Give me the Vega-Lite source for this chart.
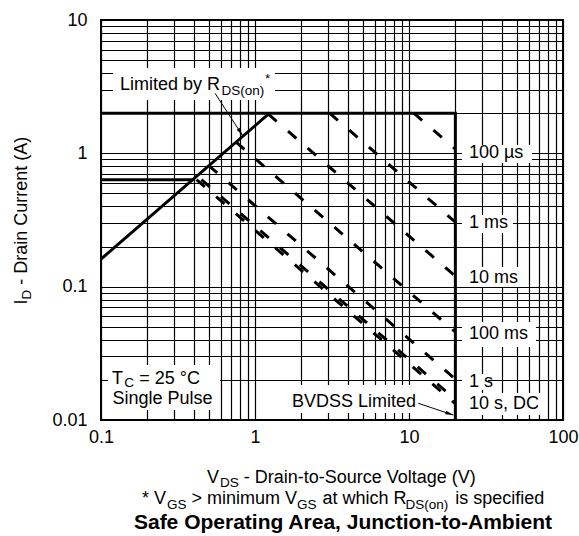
{
  "$schema": "https://vega.github.io/schema/vega-lite/v6.json",
  "width": 462,
  "height": 400,
  "autosize": {"type": "none"},
  "padding": {"left": 101, "top": 20, "right": 16, "bottom": 116},
  "background": "white",
  "config": {
    "view": {"stroke": "black", "strokeWidth": 2},
    "font": "Liberation Sans",
    "text": {"font": "Liberation Sans", "color": "black"}
  },
  "datasets": {
    "boxes": [
      {"x": 0.1197, "x2": 1.349, "y": 4.365, "y2": 2.512},
      {"x": 0.111, "x2": 0.5925, "y": 0.02585, "y2": 0.01189},
      {"x": 1.614, "x2": 11.96, "y": 0.0183, "y2": 0.01128},
      {"x": 22.08, "x2": 62.9, "y": 1.155, "y2": 0.846},
      {"x": 22.08, "x2": 47.3, "y": 0.345, "y2": 0.2527},
      {"x": 22.08, "x2": 55.0, "y": 0.1405, "y2": 0.0994},
      {"x": 22.08, "x2": 66.8, "y": 0.0543, "y2": 0.0353},
      {"x": 22.08, "x2": 32.6, "y": 0.02213, "y2": 0.0168},
      {"x": 22.08, "x2": 74.1, "y": 0.01594, "y2": 0.0109}
    ],
    "solid": [
      {"id": "limit", "o": 1, "x": 0.1, "y": 2},
      {"id": "limit", "o": 2, "x": 20, "y": 2},
      {"id": "limit", "o": 3, "x": 20, "y": 0.01},
      {"id": "hlim", "o": 1, "x": 0.1, "y": 0.635},
      {"id": "hlim", "o": 2, "x": 0.3975, "y": 0.635},
      {"id": "rds", "o": 1, "x": 0.1, "y": 0.161},
      {"id": "rds", "o": 2, "x": 1.242, "y": 2}
    ],
    "dashed": [
      {"id": "100us", "o": 1, "x": 10.75, "y": 2},
      {"id": "100us", "o": 2, "x": 20, "y": 1.075},
      {"id": "1ms", "o": 1, "x": 3.05, "y": 2},
      {"id": "1ms", "o": 2, "x": 20, "y": 0.305},
      {"id": "10ms", "o": 1, "x": 1.221, "y": 1.966},
      {"id": "10ms", "o": 2, "x": 20, "y": 0.12},
      {"id": "100ms", "o": 1, "x": 0.754, "y": 1.214},
      {"id": "100ms", "o": 2, "x": 20, "y": 0.04575},
      {"id": "1s", "o": 1, "x": 0.5015, "y": 0.8075},
      {"id": "1s", "o": 2, "x": 20, "y": 0.02025},
      {"id": "10s", "o": 1, "x": 0.449, "y": 0.635},
      {"id": "10s", "o": 2, "x": 20, "y": 0.01425},
      {"id": "DC", "o": 1, "x": 0.417, "y": 0.635},
      {"id": "DC", "o": 2, "x": 20, "y": 0.01325}
    ],
    "arrows": [
      {"x": 0.55, "y": 2.82, "x2": 0.83, "y2": 1.36},
      {"x": 11.49, "y": 0.01334, "x2": 19.4, "y2": 0.0109}
    ],
    "head1": [{"x": 0.83, "y": 1.36}],
    "head2": [{"x": 19.4, "y": 0.0109}],
    "main": [
      {"x": 0.1328, "y": 3.0, "t": "Limited by R"},
      {"x": 0.1179, "y": 0.01862, "t": "T"},
      {"x": 0.1773, "y": 0.01862, "t": "= 25 °C"},
      {"x": 0.1188, "y": 0.01307, "t": "Single Pulse"},
      {"x": 1.739, "y": 0.01258, "t": "BVDSS Limited"},
      {"x": 0.488, "y": 0.003369, "t": "V"},
      {"x": 0.8452, "y": 0.003369, "t": "- Drain-to-Source Voltage (V)"},
      {"x": 0.1846, "y": 0.002344, "t": "* V"},
      {"x": 0.387, "y": 0.002344, "t": "> minimum V"},
      {"x": 2.744, "y": 0.002344, "t": "at which R"},
      {"x": 19.98, "y": 0.002344, "t": "is specified"}
    ],
    "subs": [
      {"x": 0.606, "y": 2.76, "t": "DS(on)"},
      {"x": 0.1415, "y": 0.01783, "t": "C"},
      {"x": 0.5925, "y": 0.003171, "t": "DS"},
      {"x": 0.2683, "y": 0.002168, "t": "GS"},
      {"x": 1.874, "y": 0.002168, "t": "GS"},
      {"x": 9.49, "y": 0.002168, "t": "DS(on)"}
    ],
    "sup": [{"x": 1.161, "y": 3.39, "t": "*"}],
    "rlab": [
      {"x": 24.5, "y": 1.0, "t": "100 µs"},
      {"x": 24.5, "y": 0.3, "t": "1 ms"},
      {"x": 24.5, "y": 0.116, "t": "10 ms"},
      {"x": 24.5, "y": 0.0442, "t": "100 ms"},
      {"x": 24.5, "y": 0.0193, "t": "1 s"},
      {"x": 24.5, "y": 0.0132, "t": "10 s, DC"}
    ],
    "ymain": [
      {"x": 0.0331, "y": 0.07362, "t": "I"},
      {"x": 0.0331, "y": 0.1035, "t": "- Drain Current (A)"}
    ],
    "ysub": [{"x": 0.0351, "y": 0.08025, "t": "D"}],
    "title": [{"x": 3.727, "y": 0.001522, "t": "Safe Operating Area, Junction-to-Ambient"}]
  },
  "encoding": {
    "x": {
      "field": "x", "type": "quantitative",
      "scale": {"type": "log", "domain": [0.1, 100], "nice": false},
      "axis": {
        "values": [0.1, 0.2, 0.3, 0.4, 0.5, 0.6, 0.7, 0.8, 0.9, 1, 2, 3, 4, 5, 6, 7, 8, 9, 10, 20, 30, 40, 50, 60, 70, 80, 90, 100],
        "labelExpr": "indexof([0.01,0.1,1,10,100], datum.value) >= 0 ? format(datum.value, '~g') : ''",
        "grid": true, "gridColor": "black", "gridOpacity": 1, "gridWidth": 1.2,
        "ticks": false, "tickSize": 0, "domain": false, "title": null,
        "labelFont": "Liberation Sans", "labelFontSize": 18, "labelColor": "black",
        "labelPadding": 8, "labelOverlap": false, "labelFlush": false
      }
    },
    "y": {
      "field": "y", "type": "quantitative",
      "scale": {"type": "log", "domain": [0.01, 10], "nice": false},
      "axis": {
        "values": [0.01, 0.02, 0.03, 0.04, 0.05, 0.06, 0.07, 0.08, 0.09, 0.1, 0.2, 0.3, 0.4, 0.5, 0.6, 0.7, 0.8, 0.9, 1, 2, 3, 4, 5, 6, 7, 8, 9, 10],
        "labelExpr": "indexof([0.01,0.1,1,10,100], datum.value) >= 0 ? format(datum.value, '~g') : ''",
        "grid": true, "gridColor": "black", "gridOpacity": 1, "gridWidth": 1.2,
        "ticks": false, "tickSize": 0, "domain": false, "title": null,
        "labelFont": "Liberation Sans", "labelFontSize": 18, "labelColor": "black",
        "labelPadding": 14, "labelOverlap": false, "labelFlush": false
      }
    }
  },
  "layer": [
    {
      "data": {"name": "boxes"},
      "mark": {"type": "rect", "fill": "white", "stroke": null},
      "encoding": {"x2": {"field": "x2"}, "y2": {"field": "y2"}}
    },
    {
      "data": {"name": "solid"},
      "mark": {"type": "line", "color": "black", "strokeWidth": 3, "strokeCap": "butt", "strokeJoin": "miter"},
      "encoding": {"detail": {"field": "id"}, "order": {"field": "o"}}
    },
    {
      "data": {"name": "dashed"},
      "mark": {"type": "line", "color": "black", "strokeWidth": 3, "strokeCap": "butt", "strokeDash": [11, 15]},
      "encoding": {"detail": {"field": "id"}, "order": {"field": "o"}}
    },
    {
      "data": {"name": "arrows"},
      "mark": {"type": "rule", "color": "black", "strokeWidth": 1},
      "encoding": {"x2": {"field": "x2"}, "y2": {"field": "y2"}}
    },
    {
      "data": {"name": "head1"},
      "mark": {"type": "point", "shape": "M0,0L0.45,2L-0.45,2Z", "size": 64, "filled": true, "color": "black", "opacity": 1, "angle": 146.9}
    },
    {
      "data": {"name": "head2"},
      "mark": {"type": "point", "shape": "M0,0L0.45,2L-0.45,2Z", "size": 64, "filled": true, "color": "black", "opacity": 1, "angle": 108.5}
    },
    {
      "data": {"name": "main"},
      "mark": {"type": "text", "fontSize": 18, "align": "left", "baseline": "alphabetic"},
      "encoding": {"text": {"field": "t"}}
    },
    {
      "data": {"name": "subs"},
      "mark": {"type": "text", "fontSize": 13.5, "align": "left", "baseline": "alphabetic"},
      "encoding": {"text": {"field": "t"}}
    },
    {
      "data": {"name": "sup"},
      "mark": {"type": "text", "fontSize": 13.5, "align": "left", "baseline": "alphabetic"},
      "encoding": {"text": {"field": "t"}}
    },
    {
      "data": {"name": "rlab"},
      "mark": {"type": "text", "fontSize": 18, "align": "left", "baseline": "middle"},
      "encoding": {"text": {"field": "t"}}
    },
    {
      "data": {"name": "ymain"},
      "mark": {"type": "text", "fontSize": 18, "align": "left", "baseline": "alphabetic", "angle": 270},
      "encoding": {"text": {"field": "t"}}
    },
    {
      "data": {"name": "ysub"},
      "mark": {"type": "text", "fontSize": 13.5, "align": "left", "baseline": "alphabetic", "angle": 270},
      "encoding": {"text": {"field": "t"}}
    },
    {
      "data": {"name": "title"},
      "mark": {"type": "text", "fontSize": 21, "fontWeight": "bold", "align": "center", "baseline": "alphabetic"},
      "encoding": {"text": {"field": "t"}}
    }
  ]
}
